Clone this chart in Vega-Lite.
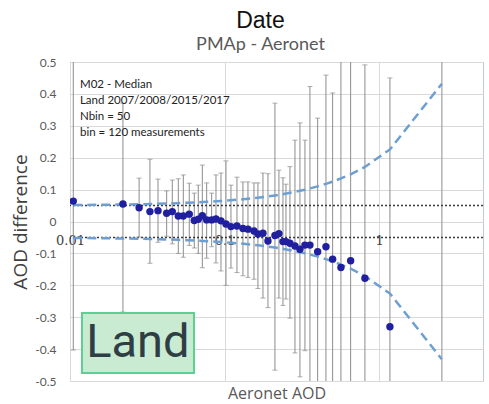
{
  "$schema": "https://vega.github.io/schema/vega-lite/v6.json",
  "width": 413,
  "height": 319,
  "autosize": {"type": "none"},
  "padding": {"left": 70, "top": 62, "right": 6, "bottom": 23},
  "background": "white",
  "config": {
    "view": {"stroke": "#bfcbd8", "strokeWidth": 1},
    "font": "Lato",
    "axis": {"labelOverlap": false, "labelFlush": false}
  },
  "title": {
    "text": "Date",
    "subtitle": "PMAp - Aeronet",
    "font": "Liberation Sans",
    "fontSize": 23,
    "fontWeight": "normal",
    "color": "#111111",
    "subtitleFont": "Lato",
    "subtitleFontSize": 18,
    "subtitleColor": "#595959",
    "subtitlePadding": 3,
    "offset": 2,
    "anchor": "middle",
    "dx": -16
  },
  "datasets": {
    "bins": [
      {"x": 0.0105, "y": 0.064, "lo": -0.403, "hi": 0.531},
      {"x": 0.0220, "y": 0.055, "lo": -0.284, "hi": 0.371},
      {"x": 0.0280, "y": 0.043, "lo": -0.049, "hi": 0.136},
      {"x": 0.0329, "y": 0.031, "lo": -0.131, "hi": 0.195},
      {"x": 0.0371, "y": 0.034, "lo": -0.065, "hi": 0.133},
      {"x": 0.0422, "y": 0.026, "lo": -0.046, "hi": 0.096},
      {"x": 0.0459, "y": 0.031, "lo": -0.070, "hi": 0.130},
      {"x": 0.0502, "y": 0.017, "lo": -0.100, "hi": 0.134},
      {"x": 0.0541, "y": 0.017, "lo": -0.112, "hi": 0.146},
      {"x": 0.0591, "y": 0.023, "lo": -0.075, "hi": 0.120},
      {"x": 0.0637, "y": 0.003, "lo": -0.083, "hi": 0.089},
      {"x": 0.0676, "y": 0.007, "lo": -0.100, "hi": 0.114},
      {"x": 0.0718, "y": 0.018, "lo": -0.145, "hi": 0.177},
      {"x": 0.0766, "y": 0.005, "lo": -0.115, "hi": 0.121},
      {"x": 0.0825, "y": 0.005, "lo": -0.079, "hi": 0.089},
      {"x": 0.0880, "y": 0.008, "lo": -0.130, "hi": 0.146},
      {"x": 0.0948, "y": 0.002, "lo": -0.155, "hi": 0.152},
      {"x": 0.1021, "y": -0.008, "lo": -0.200, "hi": 0.190},
      {"x": 0.1100, "y": -0.016, "lo": -0.146, "hi": 0.114},
      {"x": 0.1203, "y": -0.014, "lo": -0.160, "hi": 0.139},
      {"x": 0.1315, "y": -0.022, "lo": -0.170, "hi": 0.124},
      {"x": 0.1417, "y": -0.024, "lo": -0.175, "hi": 0.124},
      {"x": 0.1550, "y": -0.030, "lo": -0.181, "hi": 0.121},
      {"x": 0.1644, "y": -0.039, "lo": -0.210, "hi": 0.121},
      {"x": 0.1772, "y": -0.037, "lo": -0.240, "hi": 0.152},
      {"x": 0.1909, "y": -0.061, "lo": -0.270, "hi": 0.150},
      {"x": 0.2118, "y": -0.044, "lo": -0.466, "hi": 0.371},
      {"x": 0.2248, "y": -0.038, "lo": -0.240, "hi": 0.161},
      {"x": 0.2387, "y": -0.063, "lo": -0.263, "hi": 0.137},
      {"x": 0.2496, "y": -0.063, "lo": -0.243, "hi": 0.117},
      {"x": 0.2649, "y": -0.068, "lo": -0.303, "hi": 0.172},
      {"x": 0.2854, "y": -0.077, "lo": -0.412, "hi": 0.255},
      {"x": 0.3074, "y": -0.087, "lo": -0.487, "hi": 0.309},
      {"x": 0.3312, "y": -0.074, "lo": -0.405, "hi": 0.255},
      {"x": 0.3568, "y": -0.074, "lo": -0.571, "hi": 0.423},
      {"x": 0.4002, "y": -0.095, "lo": -0.514, "hi": 0.324},
      {"x": 0.4529, "y": -0.079, "lo": -0.617, "hi": 0.459},
      {"x": 0.5003, "y": -0.118, "lo": -0.639, "hi": 0.403},
      {"x": 0.5661, "y": -0.144, "lo": -0.990, "hi": 0.700},
      {"x": 0.6542, "y": -0.123, "lo": -1.000, "hi": 0.800},
      {"x": 0.8093, "y": -0.178, "lo": -0.847, "hi": 0.491},
      {"x": 1.1746, "y": -0.330, "lo": -1.110, "hi": 0.450},
      {"x": 2.548, "y": -0.620, "lo": -2.000, "hi": 0.900}
    ],
    "env": [
      {"x": 0.0105, "up": 0.0516, "down": -0.0516},
      {"x": 0.0220, "up": 0.0533, "down": -0.0533},
      {"x": 0.0280, "up": 0.0542, "down": -0.0542},
      {"x": 0.0330, "up": 0.0549, "down": -0.0549},
      {"x": 0.0420, "up": 0.0563, "down": -0.0563},
      {"x": 0.0500, "up": 0.0575, "down": -0.0575},
      {"x": 0.0590, "up": 0.0589, "down": -0.0589},
      {"x": 0.0680, "up": 0.0602, "down": -0.0602},
      {"x": 0.0770, "up": 0.0616, "down": -0.0616},
      {"x": 0.0880, "up": 0.0632, "down": -0.0632},
      {"x": 0.0950, "up": 0.0643, "down": -0.0643},
      {"x": 0.1100, "up": 0.0665, "down": -0.0665},
      {"x": 0.1200, "up": 0.0680, "down": -0.0680},
      {"x": 0.1420, "up": 0.0713, "down": -0.0713},
      {"x": 0.1640, "up": 0.0746, "down": -0.0746},
      {"x": 0.1910, "up": 0.0787, "down": -0.0787},
      {"x": 0.2120, "up": 0.0818, "down": -0.0818},
      {"x": 0.2380, "up": 0.0857, "down": -0.0857},
      {"x": 0.2650, "up": 0.0898, "down": -0.0898},
      {"x": 0.2850, "up": 0.0928, "down": -0.0928},
      {"x": 0.3070, "up": 0.0961, "down": -0.0961},
      {"x": 0.3310, "up": 0.0997, "down": -0.0997},
      {"x": 0.3570, "up": 0.1036, "down": -0.1036},
      {"x": 0.4000, "up": 0.1100, "down": -0.1100},
      {"x": 0.4530, "up": 0.1180, "down": -0.1180},
      {"x": 0.5000, "up": 0.1250, "down": -0.1250},
      {"x": 0.5660, "up": 0.1350, "down": -0.1350},
      {"x": 0.6540, "up": 0.1480, "down": -0.1480},
      {"x": 0.8090, "up": 0.1710, "down": -0.1710},
      {"x": 1.1750, "up": 0.2260, "down": -0.2260},
      {"x": 2.5480, "up": 0.4320, "down": -0.4320}
    ],
    "refs": [{"v": 0.05}, {"v": -0.05}],
    "one": [{"id": 1}]
  },
  "resolve": {"axis": {"x": "independent", "y": "independent"}},
  "layer": [
    {
      "data": {"name": "bins"},
      "mark": {"type": "rule", "color": "#8c8c8c", "strokeWidth": 1, "clip": true},
      "encoding": {
        "x": {
          "field": "x", "type": "quantitative",
          "scale": {"type": "log", "domain": [0.01, 4.7], "nice": false},
          "axis": {
            "orient": "bottom", "title": "Aeronet AOD", "ticks": false, "domain": false,
            "grid": true, "gridColor": "#d9d9d9", "values": [0.01, 0.1, 1], "format": "~g",
            "labelFont": "DejaVu Serif", "labelFontSize": 13, "labelColor": "#404040", "labelPadding": -146.5,
            "labelOverlap": false, "labelFlush": false,
            "titleFont": "Open Sans", "titleFontSize": 16, "titleFontWeight": "normal", "titleColor": "#595959",
            "titleX": 206.5, "titleY": 12, "titleBaseline": "middle", "titleAlign": "center"
          }
        },
        "y": {
          "field": "lo", "type": "quantitative",
          "scale": {"domain": [-0.5, 0.5], "nice": false, "zero": false},
          "axis": {
            "orient": "left",
            "values": [-0.5, -0.4, -0.3, -0.2, -0.1, 0, 0.1, 0.2, 0.3, 0.4, 0.5],
            "grid": true, "gridColor": "#d9d9d9", "domain": false, "ticks": false, "labelOverlap": false,
            "labelPadding": 14, "labelFont": "Lato", "labelFontSize": 12, "labelColor": "#595959",
            "labelExpr": "datum.value < 0 ? '-' + format(-datum.value, '~g') : format(datum.value, '~g')",
            "title": "AOD difference", "titleFont": "Open Sans", "titleFontSize": 19, "titleFontWeight": "normal",
            "titleColor": "#404040", "titleX": -50, "titleY": 159.5, "titleAngle": -90,
            "titleAlign": "center", "titleBaseline": "middle"
          }
        },
        "y2": {"field": "hi"}
      }
    },
    {
      "data": {"name": "refs"},
      "mark": {"type": "rule", "color": "#3a3a3a", "strokeWidth": 1.5, "strokeDash": [2, 2]},
      "encoding": {
        "y": {"field": "v", "type": "quantitative", "scale": {"domain": [-0.5, 0.5], "nice": false, "zero": false}, "axis": null}
      }
    },
    {
      "data": {"name": "env"},
      "mark": {"type": "line", "color": "#6d9fd3", "strokeWidth": 2.5, "strokeDash": [9, 5]},
      "encoding": {
        "x": {"field": "x", "type": "quantitative", "scale": {"type": "log", "domain": [0.01, 4.7], "nice": false}, "axis": null},
        "y": {"field": "up", "type": "quantitative", "scale": {"domain": [-0.5, 0.5], "nice": false, "zero": false}, "axis": null}
      }
    },
    {
      "data": {"name": "env"},
      "mark": {"type": "line", "color": "#6d9fd3", "strokeWidth": 2.5, "strokeDash": [9, 5]},
      "encoding": {
        "x": {"field": "x", "type": "quantitative", "scale": {"type": "log", "domain": [0.01, 4.7], "nice": false}, "axis": null},
        "y": {"field": "down", "type": "quantitative", "scale": {"domain": [-0.5, 0.5], "nice": false, "zero": false}, "axis": null}
      }
    },
    {
      "data": {"name": "bins"},
      "mark": {"type": "tick", "orient": "horizontal", "color": "#8c8c8c", "size": 5, "thickness": 1, "clip": true},
      "encoding": {
        "x": {"field": "x", "type": "quantitative", "scale": {"type": "log", "domain": [0.01, 4.7], "nice": false}, "axis": null},
        "y": {"field": "lo", "type": "quantitative", "scale": {"domain": [-0.5, 0.5], "nice": false, "zero": false}, "axis": null}
      }
    },
    {
      "data": {"name": "bins"},
      "mark": {"type": "tick", "orient": "horizontal", "color": "#8c8c8c", "size": 5, "thickness": 1, "clip": true},
      "encoding": {
        "x": {"field": "x", "type": "quantitative", "scale": {"type": "log", "domain": [0.01, 4.7], "nice": false}, "axis": null},
        "y": {"field": "hi", "type": "quantitative", "scale": {"domain": [-0.5, 0.5], "nice": false, "zero": false}, "axis": null}
      }
    },
    {
      "data": {"name": "bins"},
      "mark": {"type": "circle", "size": 55, "color": "#1f1f9f", "opacity": 1, "clip": true},
      "encoding": {
        "x": {"field": "x", "type": "quantitative", "scale": {"type": "log", "domain": [0.01, 4.7], "nice": false}, "axis": null},
        "y": {"field": "y", "type": "quantitative", "scale": {"domain": [-0.5, 0.5], "nice": false, "zero": false}, "axis": null}
      }
    },
    {
      "data": {"name": "one"},
      "mark": {
        "type": "text", "align": "left", "baseline": "top", "font": "Lato", "fontSize": 11.5, "color": "#222222", "lineHeight": 16,
        "text": ["M02 - Median", "Land 2007/2008/2015/2017", "Nbin = 50", "bin = 120 measurements"]
      },
      "encoding": {
        "x": {"datum": 0.0116, "type": "quantitative", "scale": {"type": "log", "domain": [0.01, 4.7], "nice": false}, "axis": null},
        "y": {"datum": 0.447, "type": "quantitative", "scale": {"domain": [-0.5, 0.5], "nice": false, "zero": false}, "axis": null}
      }
    },
    {
      "data": {"name": "one"},
      "mark": {"type": "rect", "fill": "#c8ebd2", "stroke": "#5ccf93", "strokeWidth": 2},
      "encoding": {
        "x": {"datum": 0.01196, "type": "quantitative", "scale": {"type": "log", "domain": [0.01, 4.7], "nice": false}, "axis": null},
        "x2": {"datum": 0.0634},
        "y": {"datum": -0.287, "type": "quantitative", "scale": {"domain": [-0.5, 0.5], "nice": false, "zero": false}, "axis": null},
        "y2": {"datum": -0.475}
      }
    },
    {
      "data": {"name": "one"},
      "mark": {"type": "text", "text": "Land", "font": "Roboto", "fontSize": 47, "color": "#2f3d45", "align": "center", "baseline": "middle"},
      "encoding": {
        "x": {"datum": 0.0275, "type": "quantitative", "scale": {"type": "log", "domain": [0.01, 4.7], "nice": false}, "axis": null},
        "y": {"datum": -0.381, "type": "quantitative", "scale": {"domain": [-0.5, 0.5], "nice": false, "zero": false}, "axis": null}
      }
    }
  ]
}
